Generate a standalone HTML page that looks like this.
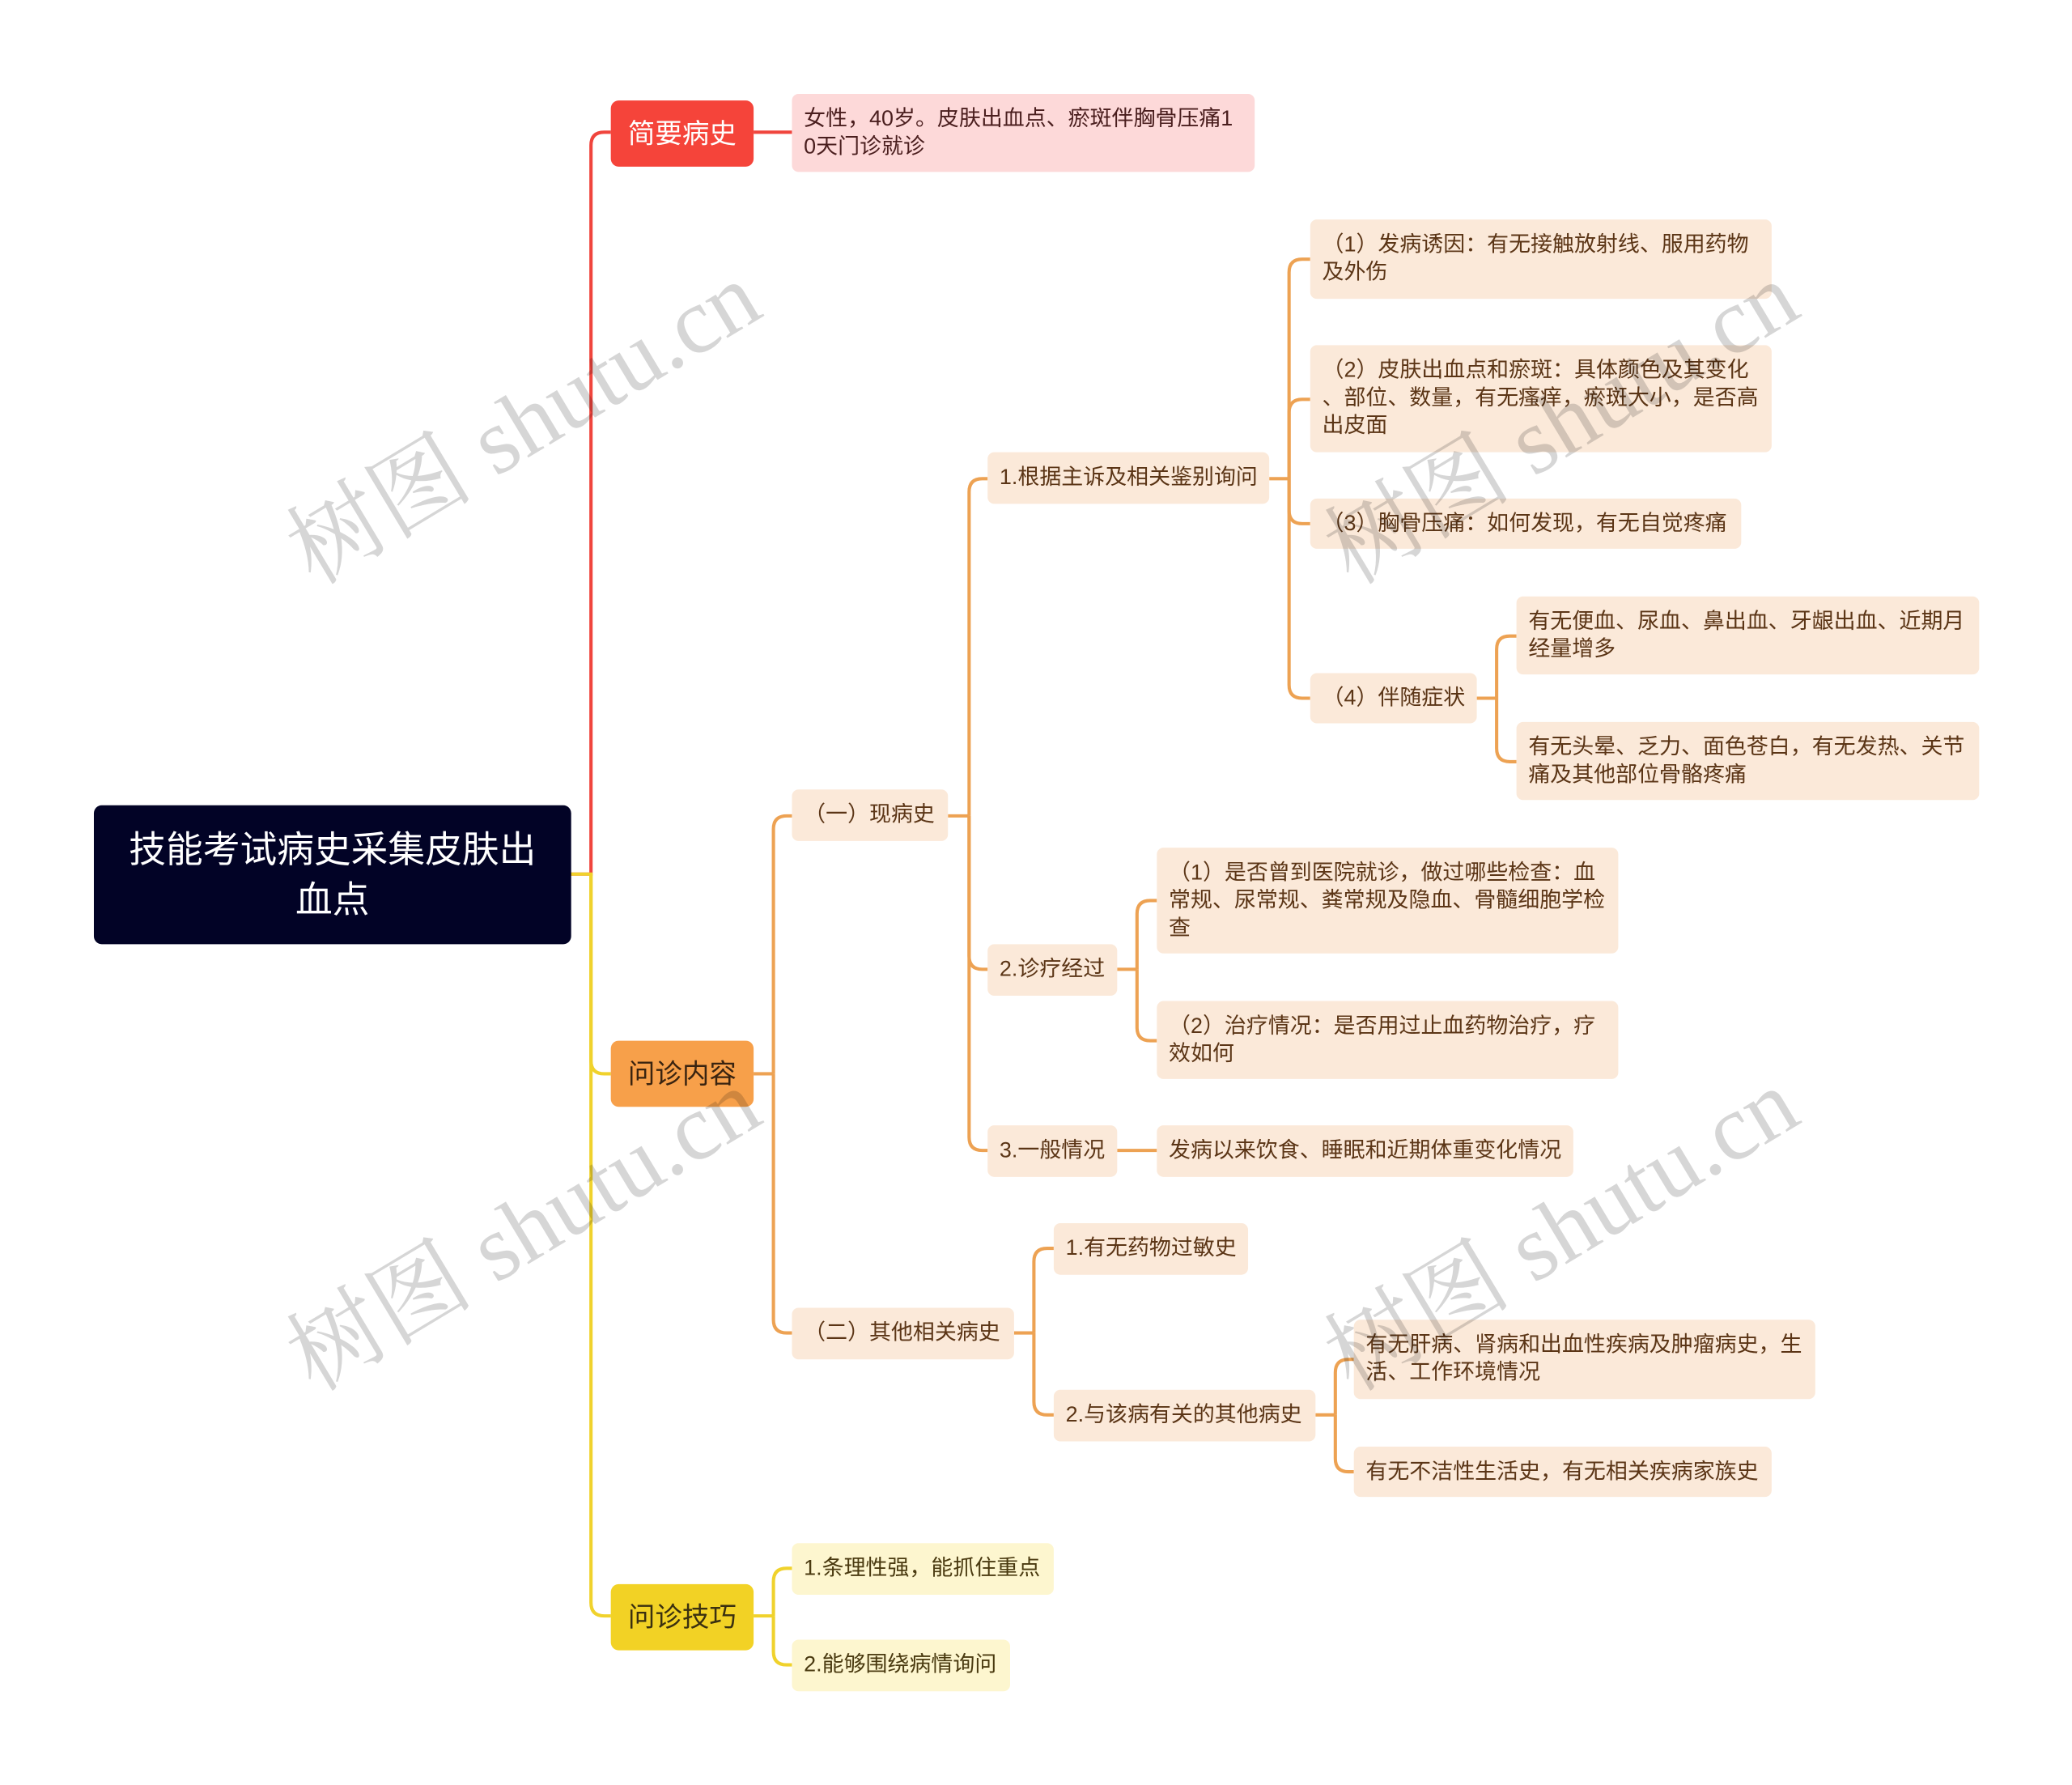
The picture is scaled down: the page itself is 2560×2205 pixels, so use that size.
<!DOCTYPE html>
<html><head><meta charset="utf-8"><style>
html,body{margin:0;padding:0;background:#fff;}
body{width:2560px;height:2204px;overflow:hidden;position:relative;}
#w{position:absolute;left:0;top:0;width:1568px;height:1350px;transform:scale(1.6335);transform-origin:0 0;font-family:"Liberation Sans","Noto Sans CJK SC",sans-serif;}
.n{position:absolute;box-sizing:border-box;display:flex;align-items:center;border-radius:5px;font-size:16.5px;line-height:21px;color:#5b3516;background:#fbe9d9;padding-left:9px;white-space:nowrap;}
.m{justify-content:center;padding:0;font-size:20.5px;border-radius:6px;}
.wm{position:absolute;font-family:"Liberation Serif","Noto Serif CJK SC",serif;font-size:71px;color:rgba(0,0,0,0.16);transform:translate(-50%,-50%) rotate(-31deg);white-space:nowrap;}
</style></head><body><div id="w">
<svg width="1568" height="1350" style="position:absolute;left:0;top:0" fill="none" stroke-width="2.5">
<g stroke="#f0453d">
<path d="M432 661 H447 V110 Q447 100 457 100 H462"/>
<path d="M570 100 H599"/>
</g>
<g stroke="#f0d22c">
<path d="M432 661 H447 V1212 Q447 1222 457 1222 H462"/>
<path d="M447 661 V802 Q447 812 457 812 H462"/>
<path d="M570 1222 H585"/>
<path d="M585 1222 V1196 Q585 1186 595 1186 H599"/>
<path d="M585 1222 V1249 Q585 1259 595 1259 H599"/>
</g>
<g stroke="#eda253">
<path d="M570 812 H585"/>
<path d="M585 812 V627 Q585 617 595 617 H599"/>
<path d="M585 812 V998 Q585 1008 595 1008 H599"/>
<path d="M717 617 H733"/>
<path d="M733 617 V372 Q733 362 743 362 H747"/>
<path d="M733 617 V723 Q733 733 743 733 H747"/>
<path d="M733 617 V860 Q733 870 743 870 H747"/>
<path d="M960 362 H975"/>
<path d="M975 362 V206 Q975 196 985 196 H991"/>
<path d="M975 362 V312 Q975 302 985 302 H991"/>
<path d="M975 362 V386 Q975 396 985 396 H991"/>
<path d="M975 362 V518 Q975 528 985 528 H991"/>
<path d="M1117 528 H1132"/>
<path d="M1132 528 V491 Q1132 481 1142 481 H1147"/>
<path d="M1132 528 V566 Q1132 576 1142 576 H1147"/>
<path d="M845 733 H860"/>
<path d="M860 733 V691 Q860 681 870 681 H875"/>
<path d="M860 733 V777 Q860 787 870 787 H875"/>
<path d="M845 870 H875"/>
<path d="M767 1008 H782"/>
<path d="M782 1008 V954 Q782 944 792 944 H797"/>
<path d="M782 1008 V1060 Q782 1070 792 1070 H797"/>
<path d="M995 1070 H1010"/>
<path d="M1010 1070 V1038 Q1010 1028 1020 1028 H1024"/>
<path d="M1010 1070 V1103 Q1010 1113 1020 1113 H1024"/>
</g>
</svg>
<div class="n m" style="left:71px;top:609px;width:361px;height:105px;background:#020326;color:#fff;font-size:28px;line-height:38px;text-align:center;">技能考试病史采集皮肤出<br>血点</div>
<div class="n m" style="left:462px;top:76px;width:108px;height:50px;background:#f5443a;color:#fff;">简要病史</div>
<div class="n m" style="left:462px;top:787px;width:108px;height:50px;background:#f7a04a;color:#3a2410;">问诊内容</div>
<div class="n m" style="left:462px;top:1198px;width:108px;height:50px;background:#f2d225;color:#3a3010;">问诊技巧</div>
<div class="n" style="left:599px;top:71px;width:350px;height:59px;background:#fdd9d9;color:#4a1e1e;">女性，40岁。皮肤出血点、瘀斑伴胸骨压痛1<br>0天门诊就诊</div>
<div class="n" style="left:599px;top:597px;width:118px;height:39px;">（一）现病史</div>
<div class="n" style="left:599px;top:989px;width:168px;height:39px;">（二）其他相关病史</div>
<div class="n" style="left:747px;top:342px;width:213px;height:39px;">1.根据主诉及相关鉴别询问</div>
<div class="n" style="left:747px;top:714px;width:98px;height:39px;">2.诊疗经过</div>
<div class="n" style="left:747px;top:851px;width:98px;height:39px;">3.一般情况</div>
<div class="n" style="left:991px;top:166px;width:349px;height:60px;">（1）发病诱因：有无接触放射线、服用药物<br>及外伤</div>
<div class="n" style="left:991px;top:261px;width:349px;height:81px;">（2）皮肤出血点和瘀斑：具体颜色及其变化<br>、部位、数量，有无瘙痒，瘀斑大小，是否高<br>出皮面</div>
<div class="n" style="left:991px;top:377px;width:326px;height:38px;">（3）胸骨压痛：如何发现，有无自觉疼痛</div>
<div class="n" style="left:991px;top:509px;width:126px;height:38px;">（4）伴随症状</div>
<div class="n" style="left:1147px;top:451px;width:350px;height:59px;">有无便血、尿血、鼻出血、牙龈出血、近期月<br>经量增多</div>
<div class="n" style="left:1147px;top:546px;width:350px;height:59px;">有无头晕、乏力、面色苍白，有无发热、关节<br>痛及其他部位骨骼疼痛</div>
<div class="n" style="left:875px;top:641px;width:349px;height:80px;">（1）是否曾到医院就诊，做过哪些检查：血<br>常规、尿常规、粪常规及隐血、骨髓细胞学检<br>查</div>
<div class="n" style="left:875px;top:757px;width:349px;height:59px;">（2）治疗情况：是否用过止血药物治疗，疗<br>效如何</div>
<div class="n" style="left:875px;top:851px;width:315px;height:39px;">发病以来饮食、睡眠和近期体重变化情况</div>
<div class="n" style="left:797px;top:925px;width:147px;height:39px;">1.有无药物过敏史</div>
<div class="n" style="left:797px;top:1051px;width:198px;height:39px;">2.与该病有关的其他病史</div>
<div class="n" style="left:1024px;top:998px;width:349px;height:60px;">有无肝病、肾病和出血性疾病及肿瘤病史，生<br>活、工作环境情况</div>
<div class="n" style="left:1024px;top:1094px;width:316px;height:38px;">有无不洁性生活史，有无相关疾病家族史</div>
<div class="n" style="left:599px;top:1167px;width:198px;height:39px;background:#fdf6cf;color:#4a3a10;">1.条理性强，能抓住重点</div>
<div class="n" style="left:599px;top:1240px;width:165px;height:39px;background:#fdf6cf;color:#4a3a10;">2.能够围绕病情询问</div>
<div class="wm" style="left:393px;top:315px;">树图 shutu.cn</div>
<div class="wm" style="left:393px;top:925px;">树图 shutu.cn</div>
<div class="wm" style="left:1178px;top:315px;">树图 shutu.cn</div>
<div class="wm" style="left:1178px;top:925px;">树图 shutu.cn</div>
</div></body></html>
